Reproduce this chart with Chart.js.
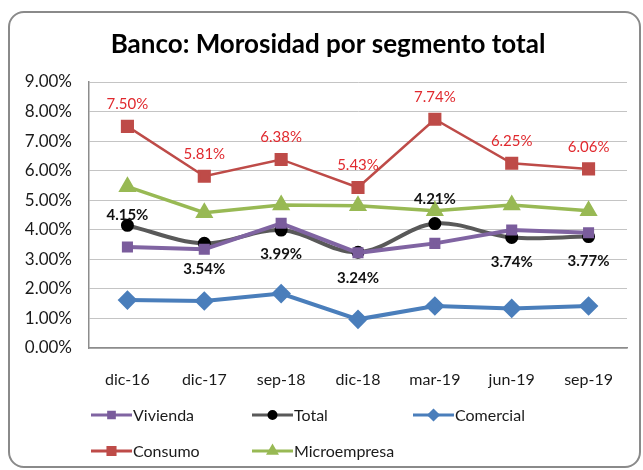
<!DOCTYPE html>
<html lang="es">
<head>
  <meta charset="utf-8">
  <title>Banco: Morosidad por segmento total</title>
  <script src="https://cdn.jsdelivr.net/npm/chart.js@4.4.1/dist/chart.umd.min.js"></script>
  <style>
    html, body { margin: 0; padding: 0; background: #fff; }
    #marco {
      position: absolute; left: 8px; top: 11px; width: 629px; height: 453px;
      border: 2px solid #8a8a8a; border-radius: 16px;
    }
    #chart { position: absolute; left: 0; top: 0; }
  </style>
</head>
<body>
  <div id="marco"></div>
  <canvas id="chart" width="643" height="470"></canvas>

<script>
  // datos (en %)
  var categorias   = ['dic-16', 'dic-17', 'sep-18', 'dic-18', 'mar-19', 'jun-19', 'sep-19'];
  var vivienda     = [3.42, 3.34, 4.22, 3.22, 3.54, 3.99, 3.90];
  var total        = [4.15, 3.54, 3.99, 3.24, 4.21, 3.74, 3.77];
  var comercial    = [1.62, 1.59, 1.84, 0.97, 1.42, 1.34, 1.42];
  var consumo      = [7.50, 5.81, 6.38, 5.43, 7.74, 6.25, 6.06];
  var microempresa = [5.46, 4.58, 4.84, 4.81, 4.64, 4.84, 4.64];
  var yMin = 0, yMax = 9, yPaso = 1;

  var fuente = "Lato, 'Liberation Sans', sans-serif";
  var fmt = function (v) { return v.toFixed(2) + '%'; };

  // etiquetas de datos (sin plugin externo)
  var etiquetasPlugin = {
    id: 'etiquetas',
    afterDatasetsDraw: function (chart) {
      var ctx = chart.ctx;
      chart.data.datasets.forEach(function (ds, i) {
        if (!ds.etiqueta) return;
        var meta = chart.getDatasetMeta(i);
        ctx.save();
        ctx.font = ds.etiqueta.font;
        ctx.fillStyle = ds.etiqueta.color;
        ctx.textAlign = 'center';
        ctx.textBaseline = 'middle';
        meta.data.forEach(function (pt, j) {
          var off = ds.etiqueta.offsets ? ds.etiqueta.offsets[j] : ds.etiqueta.offset;
          ctx.fillText(fmt(ds.data[j]), pt.x, pt.y + off);
        });
        ctx.restore();
      });
    }
  };

  // titulo y leyenda dibujados a mano
  var marcoPlugin = {
    id: 'marco',
    afterDraw: function (chart) {
      var ctx = chart.ctx;
      ctx.save();
      ctx.font = "bold 26px " + fuente;
      ctx.fillStyle = '#000';
      ctx.textAlign = 'center';
      ctx.textBaseline = 'middle';
      ctx.fillText('Banco: Morosidad por segmento total', 328, 45);

      chart.data.datasets.forEach(function (ds, k) {
        var col = k % 3, fila = Math.floor(k / 3);
        var x = 91 + col * 161, y = 415 + fila * 36;
        ctx.strokeStyle = ds.borderColor;
        ctx.lineWidth = 3;
        ctx.beginPath();
        ctx.moveTo(x, y);
        ctx.lineTo(x + 41, y);
        ctx.stroke();
        ctx.fillStyle = ds.pointBackgroundColor;
        ctx.strokeStyle = ds.pointBorderColor;
        Chart.helpers.drawPoint(ctx, {
          pointStyle: ds.pointStyle,
          radius: ds.legendRadius,
          borderWidth: 1
        }, x + 20.5, y);
        ctx.font = "16px " + fuente;
        ctx.fillStyle = '#1a1a1a';
        ctx.textAlign = 'left';
        ctx.fillText(ds.label, x + 42, y + 1);
      });
      ctx.restore();
    }
  };

  var config = {
    type: 'line',
    data: {
      labels: categorias,
      datasets: [{
        label: 'Vivienda',
        data: vivienda,
        borderColor: '#8064A2',
        pointBackgroundColor: '#7a5c9c',
        pointBorderColor: '#7a5c9c',
        borderWidth: 4,
        pointStyle: 'rect',
        pointRadius: 5,
        legendRadius: 4,
        tension: 0
      }, {
        label: 'Total',
        data: total,
        borderColor: '#595959',
        pointBackgroundColor: '#000',
        pointBorderColor: '#000',
        borderWidth: 4,
        pointStyle: 'circle',
        pointRadius: 4.5,
        legendRadius: 3.5,
        tension: 0.35,
        etiqueta: {
          font: "bold 15px " + fuente,
          color: '#111',
          offsets: [-10, 26, 24, 26, -24, 25, 25]
        }
      }, {
        label: 'Comercial',
        data: comercial,
        borderColor: '#4A7EBB',
        pointBackgroundColor: '#4A7EBB',
        pointBorderColor: '#4A7EBB',
        borderWidth: 4,
        pointStyle: 'rectRot',
        pointRadius: 7,
        legendRadius: 4.5,
        tension: 0
      }, {
        label: 'Consumo',
        data: consumo,
        borderColor: '#BE4B48',
        pointBackgroundColor: '#BE4B48',
        pointBorderColor: '#BE4B48',
        borderWidth: 2.5,
        pointStyle: 'rect',
        pointRadius: 7.5,
        legendRadius: 5,
        tension: 0,
        etiqueta: {
          font: "15px " + fuente,
          color: '#e0292e',
          offset: -22
        }
      }, {
        label: 'Microempresa',
        data: microempresa,
        borderColor: '#98B954',
        pointBackgroundColor: '#98B954',
        pointBorderColor: '#98B954',
        borderWidth: 3.5,
        pointStyle: 'triangle',
        pointRadius: 7,
        legendRadius: 4.5,
        tension: 0
      }]
    },
    options: {
      responsive: false,
      animation: false,
      layout: { padding: { top: 82, bottom: 82, left: 0, right: 16 } },
      plugins: {
        legend: { display: false },
        title: { display: false },
        tooltip: { enabled: false }
      },
      scales: {
        x: {
          offset: true,
          grid: { display: false, drawTicks: false },
          border: { display: true, color: '#8c8c8c', width: 1.5 },
          ticks: { color: '#1a1a1a', font: { family: fuente, size: 16 }, padding: 22, maxRotation: 0 },
          afterFit: function (s) { s.height = 40; }
        },
        y: {
          min: yMin,
          max: yMax,
          grid: { color: '#c4c4c4', lineWidth: 1, drawTicks: false },
          border: { display: true, color: '#8c8c8c', width: 1.5 },
          ticks: {
            stepSize: yPaso,
            color: '#1a1a1a',
            font: { family: fuente, size: 17 },
            padding: 17,
            callback: function (v) { return fmt(v); }
          },
          afterFit: function (s) { s.width = 89; }
        }
      }
    },
    plugins: [etiquetasPlugin, marcoPlugin]
  };

  window.onload = function () {
    var ctx = document.getElementById('chart').getContext('2d');
    window.miGrafico = new Chart(ctx, config);
  };
</script>
</body>
</html>
